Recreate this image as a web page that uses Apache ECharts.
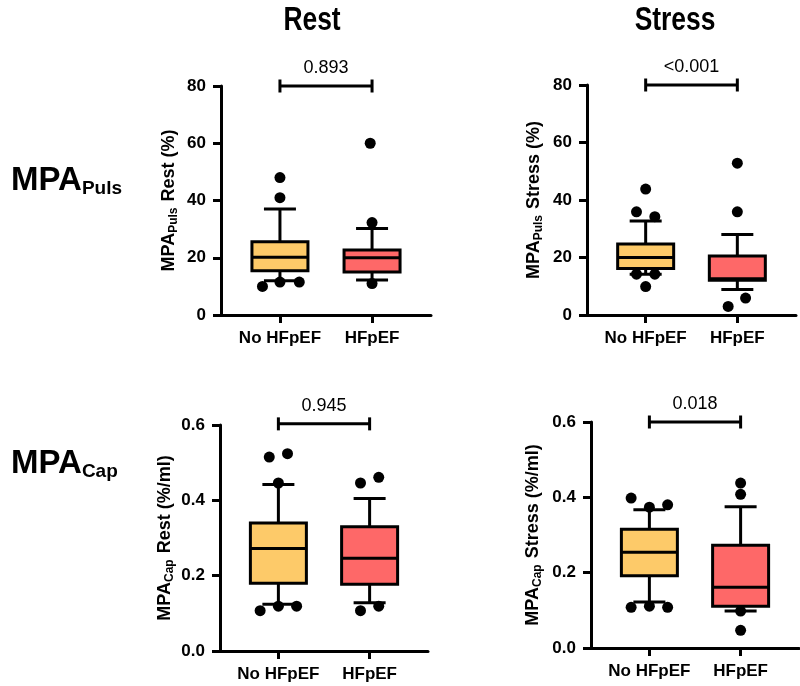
<!DOCTYPE html>
<html>
<head>
<meta charset="utf-8">
<script src="https://cdn.jsdelivr.net/npm/echarts@6/dist/echarts.min.js"></script>
<style>
html,body{margin:0;padding:0;background:#fff;}
#chart{width:800px;height:686px;}
</style>
</head>
<body>
<div id="chart"></div>
<script>
// groups on the x axis (1 = No HFpEF, 2 = HFpEF)
var groups = ['No HFpEF', 'HFpEF'];
var boxColors = ['#fdca69', '#fe6868'];

// box stats: [whisker low, Q1, median, Q3, whisker high]
var pulsRestNo = [12, 15.5, 20.2, 25.6, 37];
var pulsRestHf = [12.2, 15, 20, 22.7, 30.2];
var pulsStressNo = [14.2, 16.2, 20, 24.7, 32.7];
var pulsStressHf = [8.9, 12.1, 12.6, 20.5, 28];
var capRestNo = [0.124, 0.180, 0.272, 0.340, 0.442];
var capRestHf = [0.128, 0.177, 0.246, 0.330, 0.405];
var capStressNo = [0.122, 0.192, 0.254, 0.315, 0.367];
var capStressHf = [0.098, 0.111, 0.161, 0.273, 0.375];

// outlier points [group position, value]
var pulsRestOut = [[0.81, 10], [1, 11.5], [1.21, 11.5], [1, 41], [1, 48], [2, 11], [2, 32.3], [1.98, 60]];
var pulsStressOut = [[0.9, 14.2], [1.1, 14.2], [1, 9.9], [0.9, 35.9], [1.1, 34.2], [1, 43.8], [1.9, 3], [2.09, 5.9], [2, 35.9], [2, 52.8]];
var capRestOut = [[0.8, 0.107], [1, 0.119], [1.2, 0.119], [1, 0.446], [0.9, 0.515], [1.1, 0.524], [1.9, 0.107], [2.1, 0.119], [1.9, 0.446], [2.1, 0.461]];
var capStressOut = [[0.8, 0.108], [1, 0.111], [1.2, 0.108], [0.8, 0.398], [1, 0.374], [1.2, 0.380], [2, 0.098], [2, 0.047], [2, 0.408], [2, 0.438]];

// p values and bracket heights
var pValues = ['0.893', '<0.001', '0.945', '0.018'];
var bracketY = [80, 80, 0.603, 0.6];

// y axis ranges [min, max, interval]
var pulsTicks = [0, 80, 20];
var capTicks = [0, 0.6, 0.2];

var panels = [
  {box: [pulsRestNo, pulsRestHf], out: pulsRestOut, ticks: pulsTicks, sub: 'Puls', cond: ' Rest (%)', grid: {left: 221, top: 86, width: 210, height: 229}, gap: 41},
  {box: [pulsStressNo, pulsStressHf], out: pulsStressOut, ticks: pulsTicks, sub: 'Puls', cond: ' Stress (%)', grid: {left: 587, top: 85, width: 209, height: 230}, gap: 42},
  {box: [capRestNo, capRestHf], out: capRestOut, ticks: capTicks, sub: 'Cap', cond: ' Rest (%/ml)', grid: {left: 220, top: 425, width: 208, height: 226}, gap: 44},
  {box: [capStressNo, capStressHf], out: capStressOut, ticks: capTicks, sub: 'Cap', cond: ' Stress (%/ml)', grid: {left: 591, top: 422, width: 208, height: 226}, gap: 47}
];

var FONT = '"Liberation Sans", Arial, sans-serif';
var lineStyle = {stroke: '#000', lineWidth: 3};

function renderBox(params, api) {
  var x = api.value(0);
  var lo = api.coord([x, api.value(1)]);
  var q1 = api.coord([x, api.value(2)]);
  var md = api.coord([x, api.value(3)]);
  var q3 = api.coord([x, api.value(4)]);
  var hi = api.coord([x, api.value(5)]);
  var half = 28, cap = 16;
  return {
    type: 'group',
    children: [
      {type: 'line', shape: {x1: lo[0], y1: lo[1], x2: q1[0], y2: q1[1]}, style: lineStyle},
      {type: 'line', shape: {x1: q3[0], y1: q3[1], x2: hi[0], y2: hi[1]}, style: lineStyle},
      {type: 'line', shape: {x1: lo[0] - cap, y1: lo[1], x2: lo[0] + cap, y2: lo[1]}, style: lineStyle},
      {type: 'line', shape: {x1: hi[0] - cap, y1: hi[1], x2: hi[0] + cap, y2: hi[1]}, style: lineStyle},
      {type: 'rect', shape: {x: q3[0] - half, y: q3[1], width: half * 2, height: q1[1] - q3[1]},
        style: {fill: boxColors[params.dataIndex], stroke: '#000', lineWidth: 3}},
      {type: 'line', shape: {x1: md[0] - half, y1: md[1], x2: md[0] + half, y2: md[1]}, style: lineStyle}
    ]
  };
}

function renderBracket(params, api) {
  var a = api.coord([api.value(0), api.value(2)]);
  var b = api.coord([api.value(1), api.value(2)]);
  var h = 6.5;
  return {
    type: 'group',
    children: [
      {type: 'line', shape: {x1: a[0], y1: a[1], x2: b[0], y2: b[1]}, style: lineStyle},
      {type: 'line', shape: {x1: a[0], y1: a[1] - h, x2: a[0], y2: a[1] + h}, style: lineStyle},
      {type: 'line', shape: {x1: b[0], y1: b[1] - h, x2: b[0], y2: b[1] + h}, style: lineStyle},
      {type: 'text', x: (a[0] + b[0]) / 2, y: a[1] - 18,
        style: {text: pValues[params.seriesIndex / 3 | 0], fill: '#000', font: '18px ' + FONT, align: 'center', verticalAlign: 'middle'}}
    ]
  };
}

var grids = [], xAxes = [], yAxes = [], series = [];
panels.forEach(function (p, i) {
  grids.push(p.grid);
  xAxes.push({
    gridIndex: i, type: 'value', min: 0.36, max: 2.64,
    axisLine: {show: true, onZero: false, lineStyle: {color: '#000', width: 3}},
    axisTick: {show: true, customValues: [1, 2], length: 8, lineStyle: {color: '#000', width: 3}},
    axisLabel: {customValues: [1, 2], formatter: function (v) { return groups[Math.round(v) - 1]; },
      color: '#000', fontWeight: 'bold', fontSize: 17, fontFamily: FONT, margin: 15},
    splitLine: {show: false}
  });
  var capAxis = p.ticks[1] < 1;
  yAxes.push({
    gridIndex: i, type: 'value', min: p.ticks[0], max: p.ticks[1], interval: p.ticks[2],
    axisLine: {show: true, onZero: false, lineStyle: {color: '#000', width: 3}},
    axisTick: {show: true, length: 8, lineStyle: {color: '#000', width: 3}},
    axisLabel: {color: '#000', fontWeight: 'bold', fontSize: 17, fontFamily: FONT, margin: 15,
      formatter: function (v) { return capAxis ? v.toFixed(1) : String(v); }},
    splitLine: {show: false},
    name: '{m|MPA}{s|' + p.sub + '}{m|' + p.cond + '}',
    nameLocation: 'middle', nameRotate: 90, nameGap: p.gap,
    nameTextStyle: {
      rich: {
        m: {fontSize: 18, fontWeight: 'bold', fontFamily: FONT, color: '#000'},
        s: {fontSize: 12, fontWeight: 'bold', fontFamily: FONT, color: '#000', padding: [10, 1, 0, 0]}
      }
    }
  });
  series.push({
    type: 'custom', xAxisIndex: i, yAxisIndex: i, renderItem: renderBox,
    encode: {x: 0, y: [1, 2, 3, 4, 5]},
    data: [[1].concat(p.box[0]), [2].concat(p.box[1])]
  });
  series.push({
    type: 'scatter', xAxisIndex: i, yAxisIndex: i, symbolSize: 11,
    itemStyle: {color: '#000', opacity: 1}, data: p.out, z: 5
  });
  series.push({
    type: 'custom', xAxisIndex: i, yAxisIndex: i, renderItem: renderBracket,
    encode: {x: [0, 1], y: 2},
    data: [[1, 2, bracketY[i]]]
  });
});

var rowRich = {
  m: {fontSize: 33, fontWeight: 'bold', fontFamily: FONT, fill: '#000'},
  s: {fontSize: 19, fontWeight: 'bold', fontFamily: FONT, fill: '#000', padding: [15, 0, 0, 0]}
};

var chart = echarts.init(document.getElementById('chart'));
chart.setOption({
  animation: false,
  backgroundColor: '#fff',
  grid: grids,
  xAxis: xAxes,
  yAxis: yAxes,
  series: series,
  graphic: [
    {type: 'text', x: 312, y: 21, scaleX: 0.8, style: {text: 'Rest', font: 'bold 33px ' + FONT, fill: '#000', align: 'center', verticalAlign: 'middle'}},
    {type: 'text', x: 675, y: 21, scaleX: 0.8, style: {text: 'Stress', font: 'bold 33px ' + FONT, fill: '#000', align: 'center', verticalAlign: 'middle'}},
    {type: 'text', x: 11, y: 181, style: {text: '{m|MPA}{s|Puls}', rich: rowRich, verticalAlign: 'middle'}},
    {type: 'text', x: 11, y: 464, style: {text: '{m|MPA}{s|Cap}', rich: rowRich, verticalAlign: 'middle'}}
  ]
});
</script>
</body>
</html>
